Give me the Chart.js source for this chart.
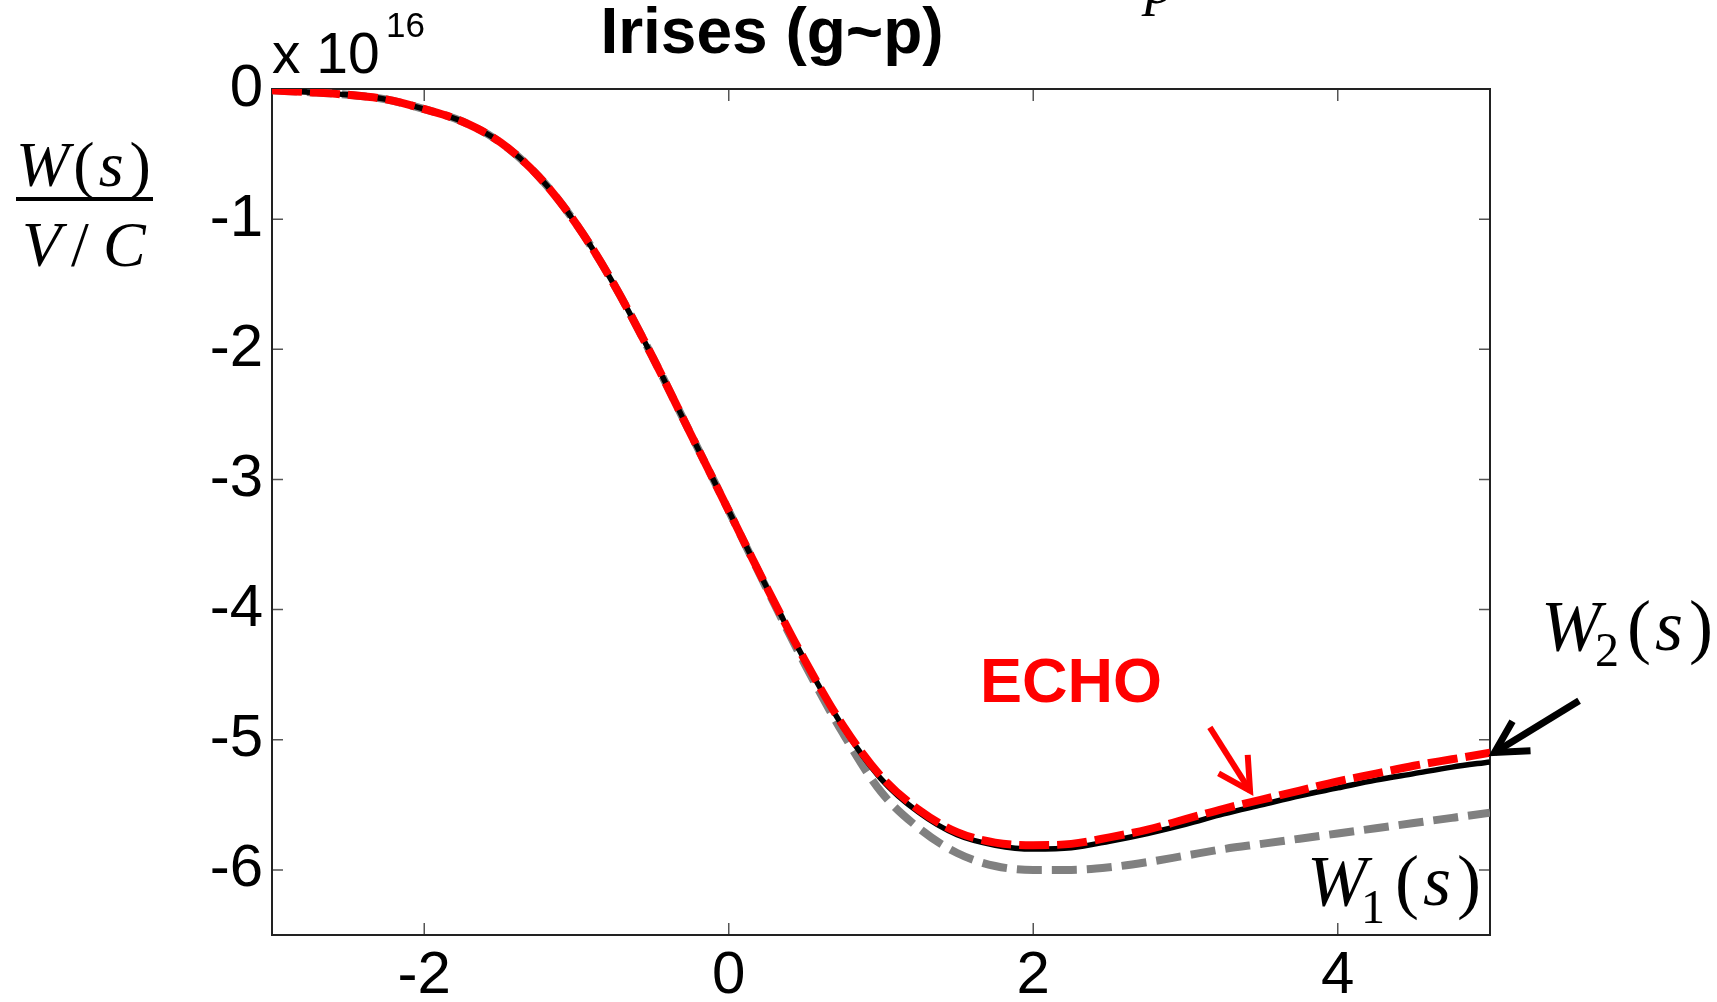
<!DOCTYPE html>
<html>
<head>
<meta charset="utf-8">
<script src="https://cdn.jsdelivr.net/npm/chart.js@4.4.1/dist/chart.umd.min.js"></script>
<style>
  html, body { margin: 0; padding: 0; background: #fff; }
  #wrap { width: 1717px; height: 1002px; }
</style>
</head>
<body>
<div id="wrap"><canvas id="myChart" width="1717" height="1002"></canvas></div>
<script>
// s values along the x axis
const sValues = [-3, -2.75, -2.5, -2.25, -2, -1.75, -1.5, -1.25, -1, -0.75, -0.5, -0.25,
    0, 0.25, 0.5, 0.75, 1, 1.25, 1.5, 1.75, 2, 2.25, 2.5, 2.75, 3, 3.25, 3.5, 3.75, 4, 4.25, 4.5, 4.75, 5];

// ECHO (red dashed)
const echoValues = [-0.01, -0.025, -0.045, -0.08, -0.155, -0.25, -0.41, -0.67, -1.04, -1.51, -2.06, -2.65,
    -3.24, -3.83, -4.39, -4.89, -5.28, -5.54, -5.71, -5.79, -5.81, -5.80, -5.75, -5.69, -5.61, -5.53, -5.46, -5.39, -5.32, -5.26, -5.20, -5.15, -5.10];

// W2(s) (black solid)
const w2Values = [-0.01, -0.025, -0.045, -0.08, -0.155, -0.25, -0.41, -0.67, -1.04, -1.51, -2.06, -2.65,
    -3.24, -3.83, -4.39, -4.90, -5.30, -5.56, -5.73, -5.81, -5.84, -5.83, -5.78, -5.72, -5.65, -5.57, -5.50, -5.43, -5.37, -5.31, -5.26, -5.21, -5.17];

// W1(s) (gray dashed)
const w1Values = [-0.01, -0.025, -0.045, -0.08, -0.155, -0.25, -0.41, -0.67, -1.04, -1.51, -2.06, -2.65,
    -3.24, -3.84, -4.42, -4.95, -5.40, -5.68, -5.87, -5.97, -6.00, -6.00, -5.98, -5.94, -5.89, -5.84, -5.80, -5.76, -5.72, -5.68, -5.64, -5.60, -5.56];

const xTicks = [-2, 0, 2, 4];
const yTicks = [0, -1, -2, -3, -4, -5, -6];

const SANS = "'Liberation Sans', Arial, sans-serif";
const SERIF = "'Liberation Serif', 'Times New Roman', serif";

function toPoints(ys) {
    var pts = [];
    for (var i = 0; i < sValues.length; i++) {
        pts.push({ x: sValues[i], y: ys[i] });
    }
    return pts;
}

// draws a run of text pieces one after another
function drawRun(ctx, parts, x, y) {
    var cx = x;
    for (var p of parts) {
        ctx.font = p.font;
        ctx.fillText(p.t, cx + (p.dx || 0), y + (p.dy || 0));
        cx += ctx.measureText(p.t).width + (p.dx || 0) + (p.gap || 0);
    }
}

function drawArrow(ctx, x0, y0, x1, y1, color, width, head) {
    ctx.save();
    ctx.strokeStyle = color;
    ctx.lineWidth = width;
    ctx.lineCap = 'butt';
    ctx.lineJoin = 'miter';
    ctx.beginPath();
    ctx.moveTo(x0, y0);
    ctx.lineTo(x1, y1);
    ctx.stroke();
    var a = Math.atan2(y0 - y1, x0 - x1);
    ctx.beginPath();
    ctx.moveTo(x1 + head * Math.cos(a + 0.5), y1 + head * Math.sin(a + 0.5));
    ctx.lineTo(x1, y1);
    ctx.lineTo(x1 + head * Math.cos(a - 0.5), y1 + head * Math.sin(a - 0.5));
    ctx.stroke();
    ctx.restore();
}

const framePlugin = {
    id: 'frame',
    beforeDatasetsDraw(chart) {
        var ctx = chart.ctx;
        var a = chart.chartArea;
        var xs = chart.scales.x, ys = chart.scales.y;
        ctx.save();
        ctx.strokeStyle = '#555';
        ctx.lineWidth = 1.5;
        ctx.beginPath();
        for (var v of xTicks) {
            var px = xs.getPixelForValue(v);
            ctx.moveTo(px, a.bottom); ctx.lineTo(px, a.bottom - 12);
            ctx.moveTo(px, a.top); ctx.lineTo(px, a.top + 12);
        }
        for (var v of yTicks) {
            var py = ys.getPixelForValue(v);
            ctx.moveTo(a.left, py); ctx.lineTo(a.left + 11, py);
            ctx.moveTo(a.right, py); ctx.lineTo(a.right - 11, py);
        }
        ctx.stroke();
        ctx.strokeStyle = '#222';
        ctx.lineWidth = 2;
        ctx.strokeRect(a.left, a.top, a.right - a.left, a.bottom - a.top);
        ctx.restore();
    },
    afterDraw(chart) {
        var ctx = chart.ctx;
        var xs = chart.scales.x, ys = chart.scales.y;
        ctx.save();
        ctx.textBaseline = 'alphabetic';
        ctx.fillStyle = '#000';

        // title
        ctx.textAlign = 'center';
        ctx.font = 'bold 64px ' + SANS;
        ctx.fillText('Irises (g~p)', 772, 53);

        // cut-off italic p at very top
        ctx.font = 'italic 60px ' + SERIF;
        ctx.fillText('p', 1160, 3);

        // exponent
        ctx.textAlign = 'left';
        ctx.font = '57px ' + SANS;
        ctx.fillText('x 10', 272, 73);
        ctx.font = '35px ' + SANS;
        ctx.fillText('16', 386, 37);

        // y label as a fraction
        drawRun(ctx, [
            { t: 'W', font: 'italic 64px ' + SERIF, gap: 4 },
            { t: '(', font: '64px ' + SERIF, gap: 4 },
            { t: 's', font: 'italic 64px ' + SERIF, gap: 6 },
            { t: ')', font: '64px ' + SERIF }
        ], 16, 186);
        ctx.fillRect(16, 197, 137, 4);
        drawRun(ctx, [
            { t: 'V', font: 'italic 64px ' + SERIF, gap: 10 },
            { t: '/', font: '64px ' + SERIF, gap: 14 },
            { t: 'C', font: 'italic 64px ' + SERIF }
        ], 22, 266);

        // ECHO label + arrow
        ctx.fillStyle = '#ff0000';
        ctx.font = 'bold 63px ' + SANS;
        ctx.fillText('ECHO', xs.getPixelForValue(1.65), ys.getPixelForValue(-4.71));
        drawArrow(ctx, xs.getPixelForValue(3.16), ys.getPixelForValue(-4.905),
            xs.getPixelForValue(3.424), ys.getPixelForValue(-5.392), '#ff0000', 6, 36);

        // W2(s) label + arrow
        ctx.fillStyle = '#000';
        drawArrow(ctx, xs.getPixelForValue(5.585), ys.getPixelForValue(-4.70),
            xs.getPixelForValue(5.03), ys.getPixelForValue(-5.098), '#000', 7, 36);
        drawRun(ctx, [
            { t: 'W', font: 'italic 72px ' + SERIF, gap: -6 },
            { t: '2', font: '48px ' + SERIF, dy: 16, gap: 8 },
            { t: '(', font: '72px ' + SERIF, gap: 4 },
            { t: 's', font: 'italic 72px ' + SERIF, gap: 6 },
            { t: ')', font: '72px ' + SERIF }
        ], 1541, 650);

        // W1(s) label
        drawRun(ctx, [
            { t: 'W', font: 'italic 72px ' + SERIF, gap: -6 },
            { t: '1', font: '48px ' + SERIF, dy: 18, gap: 10 },
            { t: '(', font: '72px ' + SERIF, gap: 4 },
            { t: 's', font: 'italic 72px ' + SERIF, gap: 6 },
            { t: ')', font: '72px ' + SERIF }
        ], 1307, 905);

        ctx.restore();
    }
};

const ctx = document.getElementById('myChart');
const chart = new Chart(ctx, {
    type: 'line',
    data: {
        datasets: [
            {
                label: 'ECHO',
                data: toPoints(echoValues),
                borderColor: '#ff0000',
                borderWidth: 8,
                borderDash: [30, 8],
                pointRadius: 0,
                cubicInterpolationMode: 'monotone',
                order: 0
            },
            {
                label: 'W2(s)',
                data: toPoints(w2Values),
                borderColor: '#000000',
                borderWidth: 5.5,
                pointRadius: 0,
                cubicInterpolationMode: 'monotone',
                order: 1
            },
            {
                label: 'W1(s)',
                data: toPoints(w1Values),
                borderColor: '#808080',
                borderWidth: 8,
                borderDash: [25, 10],
                pointRadius: 0,
                cubicInterpolationMode: 'monotone',
                order: 2
            }
        ]
    },
    options: {
        responsive: false,
        animation: false,
        events: [],
        layout: { padding: { left: 0, right: 227, top: 89, bottom: 0 } },
        plugins: {
            legend: { display: false },
            tooltip: { enabled: false },
            title: { display: false }
        },
        scales: {
            x: {
                type: 'linear',
                min: -3,
                max: 5,
                afterBuildTicks: function (scale) {
                    scale.ticks = xTicks.map(v => ({ value: v }));
                },
                afterFit: function (scale) { scale.height = 67; },
                ticks: {
                    color: '#000',
                    font: { family: SANS, size: 60 },
                    padding: 5,
                    maxRotation: 0,
                    autoSkip: false
                },
                grid: { display: false, drawTicks: false },
                border: { display: false }
            },
            y: {
                type: 'linear',
                min: -6.5,
                max: 0,
                afterBuildTicks: function (scale) {
                    scale.ticks = yTicks.map(v => ({ value: v }));
                },
                afterFit: function (scale) { scale.width = 272; },
                ticks: {
                    color: '#000',
                    font: { family: SANS, size: 60 },
                    padding: 9,
                    autoSkip: false
                },
                grid: { display: false, drawTicks: false },
                border: { display: false }
            }
        }
    },
    plugins: [framePlugin]
});
</script>
</body>
</html>
